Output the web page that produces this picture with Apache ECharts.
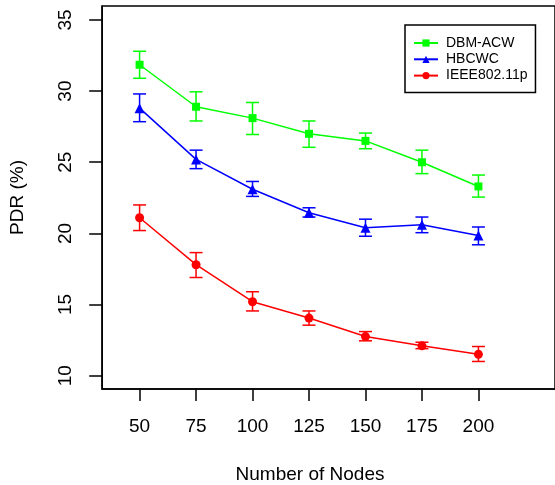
<!DOCTYPE html>
<html>
<head>
<meta charset="utf-8">
<script src="https://cdn.jsdelivr.net/npm/echarts@6/dist/echarts.min.js"></script>
<style>html,body{margin:0;padding:0;background:#fff}#c{width:555px;height:485px}</style>
</head>
<body>
<div id="c"></div>
<script>
var nodes = [50, 75, 100, 125, 150, 175, 200];
var xTicks = [50, 75, 100, 125, 150, 175, 200];
var yTicks = [10, 15, 20, 25, 30, 35];

var dbmMean = [31.85, 28.9, 28.1, 27.0, 26.5, 25.0, 23.3];
var dbmLow  = [30.9, 27.9, 26.95, 26.05, 25.95, 24.2, 22.55];
var dbmHigh = [32.8, 29.95, 29.2, 27.9, 27.05, 25.85, 24.1];

var hbMean = [28.8, 25.2, 23.1, 21.45, 20.4, 20.6, 19.85];
var hbLow  = [27.85, 24.55, 22.6, 21.15, 19.8, 20.05, 19.2];
var hbHigh = [29.8, 25.85, 23.65, 21.8, 21.0, 21.15, 20.45];

var ieeeMean = [21.1, 17.8, 15.2, 14.05, 12.75, 12.1, 11.5];
var ieeeLow  = [20.2, 16.9, 14.55, 13.55, 12.45, 11.9, 11.0];
var ieeeHigh = [22.0, 18.65, 15.9, 14.55, 13.1, 12.35, 12.05];

var names = ['DBM-ACW', 'HBCWC', 'IEEE802.11p'];
var colors = ['#00ff00', '#0000ff', '#ff0000'];

function pts(mean) { return nodes.map(function (n, i) { return [n, mean[i]]; }); }
function errs(lo, hi) { return nodes.map(function (n, i) { return [n, lo[i], hi[i]]; }); }

function errSeries(data, color) {
  return {
    type: 'custom',
    data: data,
    z: 1,
    silent: true,
    encode: { x: 0, y: [1, 2] },
    renderItem: function (params, api) {
      var x = api.value(0);
      var lo = api.coord([x, api.value(1)]);
      var hi = api.coord([x, api.value(2)]);
      var w = 6.5;
      var st = { stroke: color, lineWidth: 1.5 };
      return {
        type: 'group',
        children: [
          { type: 'line', shape: { x1: lo[0], y1: lo[1], x2: hi[0], y2: hi[1] }, style: st },
          { type: 'line', shape: { x1: lo[0] - w, y1: lo[1], x2: lo[0] + w, y2: lo[1] }, style: st },
          { type: 'line', shape: { x1: hi[0] - w, y1: hi[1], x2: hi[0] + w, y2: hi[1] }, style: st }
        ]
      };
    }
  };
}

function lineSeries(name, mean, color, symbol, size) {
  return {
    name: name,
    type: 'line',
    data: pts(mean),
    z: 3,
    symbol: symbol,
    symbolSize: size,
    showAllSymbol: true,
    lineStyle: { color: color, width: 1.5 },
    itemStyle: { color: color, borderWidth: 0 },
    animation: false
  };
}

var font = 'Liberation Sans, Arial, Helvetica, sans-serif';
var chart = echarts.init(document.getElementById('c'), null, { renderer: 'canvas' });
chart.setOption({
  animation: false,
  backgroundColor: '#fff',
  grid: { left: 101.7, top: 6, right: -2, bottom: 96, show: true, borderColor: '#000', borderWidth: 1.5, backgroundColor: 'transparent' },
  legend: {
    data: names,
    orient: 'vertical',
    left: 405,
    top: 25,
    padding: [10, 8, 9, 8],
    itemWidth: 24,
    itemHeight: 9,
    itemGap: 0.3,
    borderColor: '#000',
    borderWidth: 1.5,
    borderRadius: 0,
    backgroundColor: '#fff',
    textStyle: { fontFamily: font, fontSize: 14, color: '#000', lineHeight: 16, padding: [0, 0, 0, 3] }
  },
  xAxis: {
    type: 'value',
    min: 33.45,
    max: 233.9,
    splitLine: { show: false },
    axisLine: { show: true, lineStyle: { color: '#000', width: 1.5 } },
    axisTick: { show: true, customValues: xTicks, length: 12, lineStyle: { color: '#000', width: 1.5 } },
    axisLabel: { customValues: xTicks, fontFamily: font, fontSize: 19, color: '#000', margin: 38, verticalAlign: 'middle' }
  },
  yAxis: {
    type: 'value',
    min: 9.065,
    max: 35.98,
    name: 'PDR (%)',
    nameLocation: 'middle',
    nameRotate: 90,
    nameGap: 84.7,
    nameTextStyle: { fontFamily: font, fontSize: 19, color: '#000', verticalAlign: 'middle' },
    splitLine: { show: false },
    axisLine: { show: true, lineStyle: { color: '#000', width: 1.5 } },
    axisTick: { show: true, customValues: yTicks, length: 13, lineStyle: { color: '#000', width: 1.5 } },
    axisLabel: { customValues: yTicks, rotate: 90, fontFamily: font, fontSize: 19, color: '#000', margin: 36, align: 'center', verticalAlign: 'middle' }
  },
  graphic: [
    { type: 'text', x: 310, y: 475, style: { text: 'Number of Nodes', fontFamily: font, fontSize: 19, fill: '#000', align: 'center', verticalAlign: 'middle' } }
  ],
  series: [
    errSeries(errs(dbmLow, dbmHigh), colors[0]),
    errSeries(errs(hbLow, hbHigh), colors[1]),
    errSeries(errs(ieeeLow, ieeeHigh), colors[2]),
    lineSeries(names[0], dbmMean, colors[0], 'rect', 8),
    lineSeries(names[1], hbMean, colors[1], 'triangle', 10),
    lineSeries(names[2], ieeeMean, colors[2], 'circle', 9)
  ]
});
</script>
</body>
</html>
